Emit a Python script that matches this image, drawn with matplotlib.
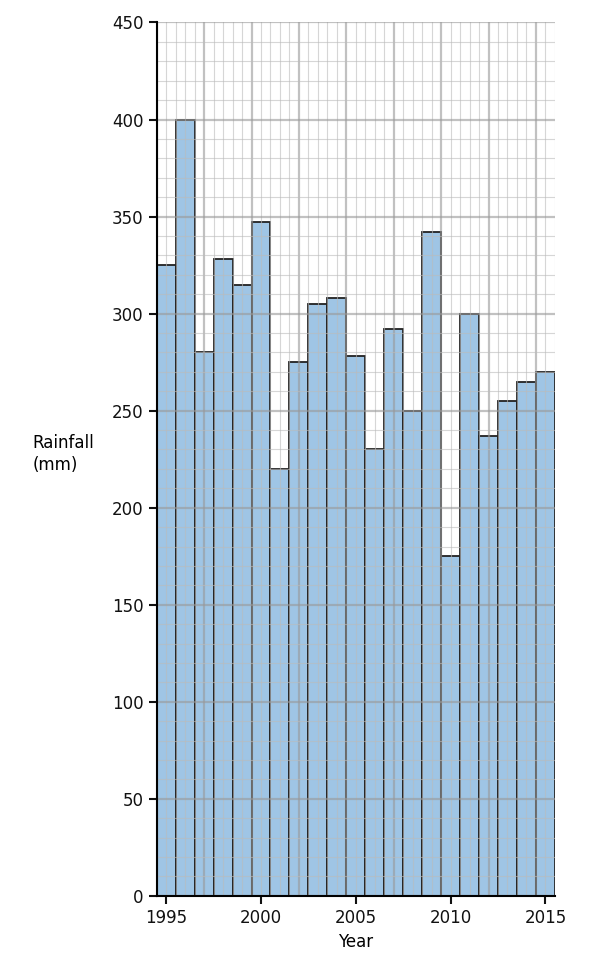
import numpy as np
import matplotlib.pyplot as plt
from matplotlib.ticker import MultipleLocator

years = list(range(1995, 2016))
rainfall = [325, 400, 280, 328, 315, 347, 220, 275, 305, 308, 278,
            230, 292, 250, 342, 175, 300, 237, 255, 265, 270]

fig = plt.figure(figsize=(5.96, 9.77), dpi=100)
ax = fig.add_axes([0.263, 0.083, 0.668, 0.894])

ax.bar(years, rainfall, width=1.0, color='#9fc5e5', edgecolor='#222222',
       linewidth=1.3, zorder=2)

# graph-paper grid, drawn over the bars
for x in np.arange(1994.5, 2015.51, 0.5):
    major = abs((x - 1994.5) / 2.5 - round((x - 1994.5) / 2.5)) < 1e-6
    ax.axvline(x, color='#999999' if major else '#bbbbbb',
               lw=1.6 if major else 0.8, alpha=0.6, zorder=3)
for y in range(0, 451, 10):
    major = y % 50 == 0
    ax.axhline(y, color='#999999' if major else '#bbbbbb',
               lw=1.6 if major else 0.8, alpha=0.6, zorder=3)

ax.set_xlim(1994.5, 2015.5)
ax.set_ylim(0, 450)
ax.set_xticks([1995, 2000, 2005, 2010, 2015])
ax.yaxis.set_major_locator(MultipleLocator(50))
for s in ['top', 'right']:
    ax.spines[s].set_visible(False)
for s in ['left', 'bottom']:
    ax.spines[s].set_linewidth(1.5)
    ax.spines[s].set_zorder(4)
ax.tick_params(labelsize=12, width=1.5, length=6, colors='#111111')
ax.set_xlabel('Year', fontsize=12, labelpad=4)
fig.text(0.055, 0.535, 'Rainfall\n(mm)', fontsize=12, ha='left', va='center',
         linespacing=1.3)

plt.savefig('out.png')
